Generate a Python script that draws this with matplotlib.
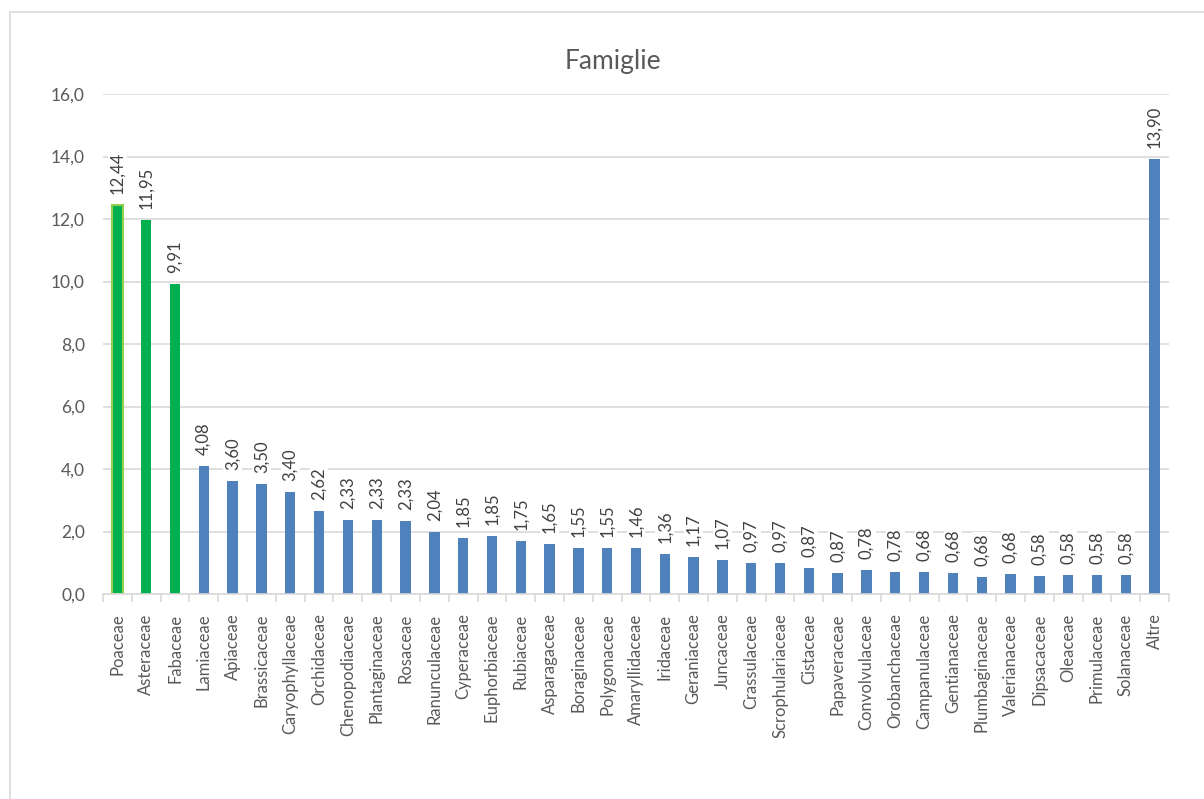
import matplotlib
matplotlib.use("Agg")
import matplotlib.pyplot as plt
from matplotlib.patches import Rectangle

plt.rcParams['font.family'] = ['Lato', 'DejaVu Sans']

famiglie = ['Poaceae', 'Asteraceae', 'Fabaceae', 'Lamiaceae', 'Apiaceae',
            'Brassicaceae', 'Caryophyllaceae', 'Orchidaceae', 'Chenopodiaceae',
            'Plantaginaceae', 'Rosaceae', 'Ranunculaceae', 'Cyperaceae',
            'Euphorbiaceae', 'Rubiaceae', 'Asparagaceae', 'Boraginaceae',
            'Polygonaceae', 'Amaryllidaceae', 'Iridaceae', 'Geraniaceae',
            'Juncaceae', 'Crassulaceae', 'Scrophulariaceae', 'Cistaceae',
            'Papaveraceae', 'Convolvulaceae', 'Orobanchaceae', 'Campanulaceae',
            'Gentianaceae', 'Plumbaginaceae', 'Valerianaceae', 'Dipsacaceae',
            'Oleaceae', 'Primulaceae', 'Solanaceae', 'Altre']

# bar heights as drawn in the picture
altezze = [12.45, 11.97, 9.92, 4.10, 3.62, 3.52, 3.26, 2.65, 2.37, 2.37,
           2.34, 1.98, 1.79, 1.86, 1.70, 1.60, 1.47, 1.47, 1.47, 1.28, 1.18,
           1.09, 0.99, 1.00, 0.83, 0.67, 0.77, 0.70, 0.69, 0.67, 0.54, 0.64,
           0.58, 0.61, 0.61, 0.61, 13.92]

# data labels as printed
etichette = ['12,44', '11,95', '9,91', '4,08', '3,60', '3,50', '3,40', '2,62',
             '2,33', '2,33', '2,33', '2,04', '1,85', '1,85', '1,75', '1,65',
             '1,55', '1,55', '1,46', '1,36', '1,17', '1,07', '0,97', '0,97',
             '0,87', '0,87', '0,78', '0,78', '0,68', '0,68', '0,68', '0,68',
             '0,58', '0,58', '0,58', '0,58', '13,90']

grigio = '#595959'
colori = ['#00B050'] * 3 + ['#4F81BD'] * (len(famiglie) - 3)
bordi = ['#92D050'] + ['none'] * (len(famiglie) - 1)

fig = plt.figure(figsize=(12.04, 7.99), dpi=100)
fig.patches.append(Rectangle((10 / 1204, -0.1), 1.2, (799 - 12) / 799 + 0.1,
                             transform=fig.transFigure, fill=False,
                             edgecolor='#D9D9D9', linewidth=1.2))
ax = fig.add_axes([103 / 1204, 1 - 594 / 799, (1169 - 103) / 1204, 500 / 799])

x = range(len(famiglie))
ax.bar(x, altezze, width=0.36, color=colori, edgecolor=bordi, linewidth=1.5,
       zorder=2)

for xi, h, s in zip(x, altezze, etichette):
    ax.annotate(s, (xi, h), xytext=(0, 8), textcoords='offset points',
                rotation=90, ha='center', va='bottom', fontsize=12,
                color='#404040', zorder=3,
                bbox=dict(facecolor='white', edgecolor='none', pad=1))

ax.set_xlim(-0.5, len(famiglie) - 0.5)
ax.set_ylim(0, 16)
ax.set_yticks(range(0, 17, 2))
ax.set_yticklabels([f'{v},0' for v in range(0, 17, 2)])
ax.yaxis.grid(True, color='#D9D9D9', linewidth=1.2, zorder=0)
ax.set_axisbelow(True)

ax.set_xticks(list(x))
ax.set_xticklabels(famiglie, rotation=90)
ax.set_xticks([i + 0.5 for i in range(-1, len(famiglie))], minor=True)
ax.tick_params(axis='x', which='major', length=0, pad=14, labelsize=12,
               labelcolor=grigio)
ax.tick_params(axis='x', which='minor', length=6, color='#D9D9D9', width=1.2)
ax.tick_params(axis='y', length=0, pad=13, labelsize=12.5, labelcolor=grigio)

for side in ['top', 'right', 'left']:
    ax.spines[side].set_visible(False)
ax.spines['bottom'].set_color('#D9D9D9')
ax.spines['bottom'].set_linewidth(1.2)

fig.text(613 / 1204, 1 - 62 / 799, 'Famiglie', ha='center', va='center',
         fontsize=19, color=grigio)

fig.savefig('out.png', dpi=100)
